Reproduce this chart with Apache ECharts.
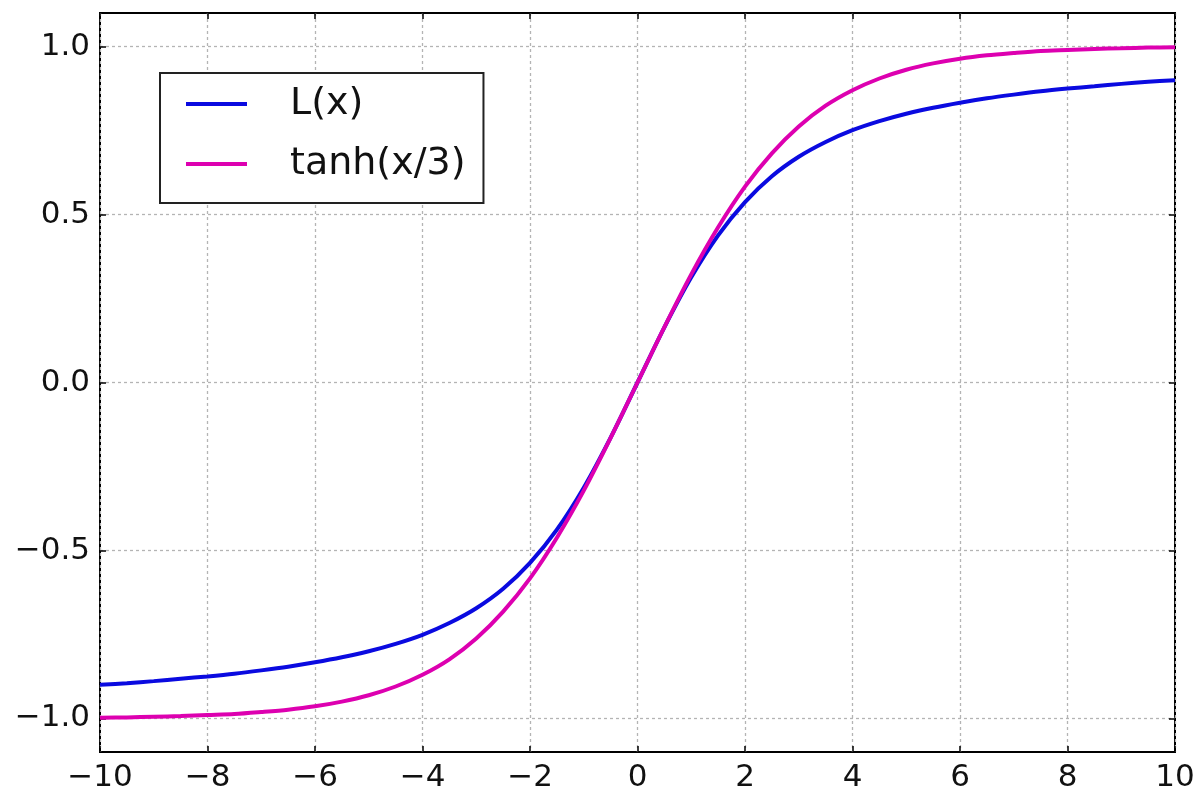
<!DOCTYPE html>
<html>
<head>
<meta charset="utf-8">
<script src="https://cdn.jsdelivr.net/npm/echarts@6/dist/echarts.min.js"></script>
<style>
html,body{margin:0;padding:0;background:#fff;}
#chart{width:1200px;height:795px;}
</style>
</head>
<body>
<div id="chart"></div>
<script>
// Values
const xValues = [-10,-9.5,-9,-8.5,-8,-7.5,-7,-6.5,-6,-5.5,-5,-4.5,-4,-3.5,-3,-2.5,-2,-1.5,-1,-0.5,0,
                 0.5,1,1.5,2,2.5,3,3.5,4,4.5,5,5.5,6,6.5,7,7.5,8,8.5,9,9.5,10];
const langevinValues = [-0.900,-0.895,-0.889,-0.882,-0.875,-0.867,-0.857,-0.846,-0.833,-0.818,-0.800,
                        -0.778,-0.751,-0.716,-0.672,-0.614,-0.537,-0.438,-0.313,-0.164,0,
                        0.164,0.313,0.438,0.537,0.614,0.672,0.716,0.751,0.778,0.800,
                        0.818,0.833,0.846,0.857,0.867,0.875,0.882,0.889,0.895,0.900];
const tanhValues = [-0.998,-0.997,-0.995,-0.993,-0.990,-0.987,-0.981,-0.974,-0.964,-0.950,-0.931,
                    -0.905,-0.870,-0.824,-0.762,-0.682,-0.583,-0.462,-0.322,-0.165,0,
                    0.165,0.322,0.462,0.583,0.682,0.762,0.824,0.870,0.905,0.931,
                    0.950,0.964,0.974,0.981,0.987,0.990,0.993,0.995,0.997,0.998];
const seriesNames = ['L(x)', 'tanh(x/3)'];
const yTickValues = [-1.0, -0.5, 0.0, 0.5, 1.0];

const FONT = 'DejaVu Sans';
const fmtY = v => v.toFixed(1).replace('-', '\u2212');
const fmtX = v => String(v).replace('-', '\u2212');
const gridLine = {show: true, lineStyle: {color: '#b4b4b4', width: 1.3, type: [3, 3]}};
const tick = extra => Object.assign({show: true, inside: true, length: 6, lineStyle: {color: '#000', width: 1.5}}, extra || {});

const chart = echarts.init(document.getElementById('chart'), null, {renderer: 'canvas'});
chart.setOption({
  animation: false,
  backgroundColor: '#fff',
  grid: {left: 100, right: 25, top: 13, bottom: 43, show: true, borderColor: '#000', borderWidth: 2, backgroundColor: 'transparent'},
  legend: {
    orient: 'vertical', left: 160, top: 73,
    data: seriesNames,
    icon: 'rect',
    itemWidth: 61, itemHeight: 4, itemGap: 22,
    padding: [12, 18, 20, 26],
    borderColor: '#222', borderWidth: 2, backgroundColor: '#fff',
    textStyle: {fontFamily: FONT, fontSize: 38, lineHeight: 38, color: '#111', padding: [0, 0, 0, 38]}
  },
  xAxis: [
    {type: 'value', min: -10, max: 10, interval: 2, position: 'bottom',
     axisLine: {show: false, onZero: false}, axisTick: tick(),
     axisLabel: {formatter: fmtX, fontFamily: FONT, fontSize: 31, color: '#111', margin: 10},
     splitLine: gridLine},
    {type: 'value', min: -10, max: 10, interval: 2, position: 'top',
     axisLine: {show: false, onZero: false}, axisTick: tick(),
     axisLabel: {show: false}, splitLine: {show: false}}
  ],
  yAxis: [
    {type: 'value', min: -1.1, max: 1.1, position: 'left',
     axisLine: {show: false, onZero: false},
     axisTick: tick({customValues: yTickValues}),
     axisLabel: {formatter: fmtY, customValues: yTickValues, fontFamily: FONT, fontSize: 31, color: '#111', margin: 10},
     splitLine: gridLine},
    {type: 'value', min: -1.1, max: 1.1, position: 'right',
     axisLine: {show: false, onZero: false},
     axisTick: tick({customValues: yTickValues}),
     axisLabel: {show: false, customValues: yTickValues}, splitLine: {show: false}}
  ],
  series: [
    {name: seriesNames[0], type: 'line', xAxisIndex: 0, yAxisIndex: 0, symbol: 'none', smooth: 0.3,
     data: xValues.map((x, i) => [x, langevinValues[i]]),
     lineStyle: {color: '#0a0ae0', width: 4}, itemStyle: {color: '#0a0ae0'}},
    {name: seriesNames[1], type: 'line', xAxisIndex: 0, yAxisIndex: 0, symbol: 'none', smooth: 0.3,
     data: xValues.map((x, i) => [x, tanhValues[i]]),
     lineStyle: {color: '#dd00b0', width: 4}, itemStyle: {color: '#dd00b0'}}
  ]
});
</script>
</body>
</html>
